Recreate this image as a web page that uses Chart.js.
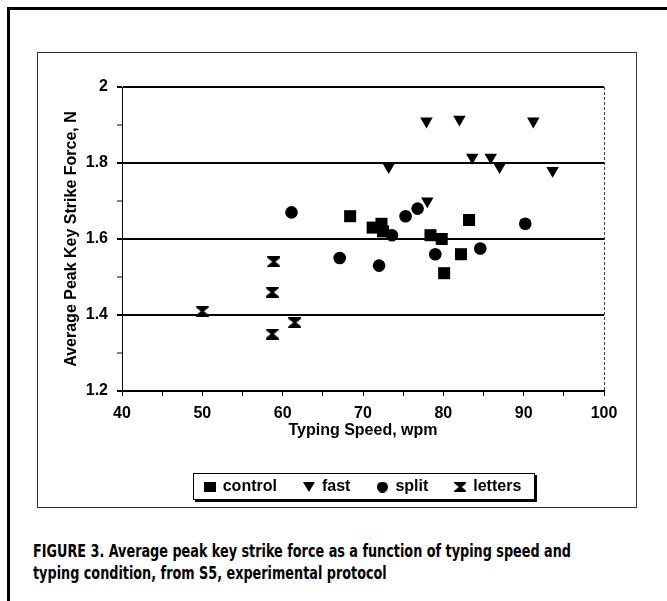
<!DOCTYPE html>
<html>
<head>
<meta charset="utf-8">
<script src="https://cdn.jsdelivr.net/npm/chart.js@4.4.0/dist/chart.umd.min.js"></script>
<style>
html,body{margin:0;padding:0;background:#fff;width:667px;height:601px;overflow:hidden;}
body{position:relative;}
#frameTop{position:absolute;left:7px;top:7px;width:660px;height:3px;background:#000;}
#frameLeft{position:absolute;left:7px;top:7px;width:3px;height:594px;background:#000;}
#box{position:absolute;left:37px;top:52px;width:598px;height:454px;border:1px solid #333;}
#wrap{position:absolute;left:38px;top:53px;width:598px;height:454px;}
.cap{position:absolute;left:33px;font-family:'Liberation Sans Narrow','DejaVu Sans Condensed','Liberation Sans',sans-serif;font-weight:bold;font-size:17px;line-height:22px;color:#000;white-space:nowrap;transform-origin:0 50%;}
</style>
</head>
<body>
<div id="frameTop"></div>
<div id="frameLeft"></div>
<div id="box"></div>
<div id="wrap"><canvas id="c" width="598" height="454"></canvas></div>
<div class="cap" id="cap1" style="top:540px">FIGURE 3. Average peak key strike force as a function of typing speed and</div>
<div class="cap" id="cap2" style="top:562px">typing condition, from S5, experimental protocol</div>
<script>
// ---- data ----
const seriesNames = ['control', 'fast', 'split', 'letters'];
const controlX = [68.4, 71.2, 72.3, 72.5, 78.4, 79.8, 80.1, 82.2, 83.2];
const controlY = [1.66, 1.63, 1.64, 1.62, 1.61, 1.60, 1.51, 1.56, 1.65];
const fastX = [73.2, 77.9, 78.0, 82.0, 83.6, 85.9, 87.0, 91.2, 93.6];
const fastY = [1.79, 1.91, 1.70, 1.915, 1.815, 1.815, 1.79, 1.91, 1.78];
const splitX = [61.1, 67.1, 72.0, 73.6, 75.3, 76.8, 79.0, 84.6, 90.2];
const splitY = [1.67, 1.55, 1.53, 1.61, 1.66, 1.68, 1.56, 1.575, 1.64];
const lettersX = [50.0, 58.7, 58.7, 58.9, 61.5];
const lettersY = [1.41, 1.35, 1.46, 1.54, 1.38];
const xTitle = 'Typing Speed, wpm';
const yTitle = 'Average Peak Key Strike Force, N';
const xMin = 40, xMax = 100, xStep = 5;
const yMin = 1.2, yMax = 2, yStep = 0.1;

// caption fit
(function(){
  const c1 = document.getElementById('cap1'), c2 = document.getElementById('cap2');
  const w = c1.getBoundingClientRect().width;
  const k = 538 / w;
  c1.style.transform = 'scaleX(' + k + ')';
  c2.style.transform = 'scaleX(' + k + ')';
})();

const ink = '#000';
function pts(xs, ys){ return xs.map((x, i) => ({x: x, y: ys[i]})); }

function makeCanvas(w, h, draw){
  const c = document.createElement('canvas');
  c.width = w; c.height = h;
  const g = c.getContext('2d');
  g.fillStyle = '#000';
  g.beginPath();
  draw(g, w, h);
  g.closePath(); g.fill();
  return c;
}
// hourglass marker
function hourglassPath(g, w, h){
  const m = h / 2, bar = h * 0.18, waist = w * 0.12;
  g.moveTo(0,0); g.lineTo(w,0); g.lineTo(w - 0.5, bar); g.lineTo(w/2 + waist, m); g.lineTo(w - 0.5, h - bar);
  g.lineTo(w,h); g.lineTo(0,h); g.lineTo(0.5, h - bar); g.lineTo(w/2 - waist, m); g.lineTo(0.5, bar);
}
const hg = makeCanvas(13, 11, hourglassPath);
// legend symbols
const legendSymbols = [
  makeCanvas(12, 10, (g, w, h) => { g.rect(0, 0, w, h); }),
  makeCanvas(12, 10, (g, w, h) => { g.moveTo(0, 0); g.lineTo(w, 0); g.lineTo(w / 2, h); }),
  makeCanvas(11, 11, (g, w, h) => { g.arc(w / 2, h / 2, w / 2, 0, Math.PI * 2); }),
  makeCanvas(12, 10, hourglassPath)
];

const legendFrame = {
  id: 'legendFrame',
  beforeDraw(chart){
    const lg = chart.legend;
    if (!lg || !lg.legendHitBoxes || !lg.legendHitBoxes.length) return;
    const hb = lg.legendHitBoxes;
    const l = Math.min.apply(null, hb.map(h => h.left));
    const r = Math.max.apply(null, hb.map(h => h.left + h.width));
    const cy = hb[0].top + hb[0].height / 2;
    const x0 = Math.round(l - 12), x1 = Math.round(r + 14);
    const y0 = Math.round(cy - 14), y1 = Math.round(cy + 13);
    const ctx = chart.ctx;
    ctx.save();
    ctx.fillStyle = '#000';
    ctx.fillRect(x0 + 2, y0 + 2, x1 - x0, y1 - y0);
    ctx.fillStyle = '#fff';
    ctx.fillRect(x0, y0, x1 - x0, y1 - y0);
    ctx.strokeStyle = '#000';
    ctx.lineWidth = 1;
    ctx.strokeRect(x0 + 0.5, y0 + 0.5, x1 - x0 - 1, y1 - y0 - 1);
    ctx.restore();
  },
  afterDraw(chart){
    const a = chart.chartArea, ctx = chart.ctx;
    ctx.save();
    ctx.strokeStyle = '#444';
    ctx.lineWidth = 1;
    ctx.setLineDash([3, 2]);
    ctx.beginPath();
    ctx.moveTo(Math.round(a.right) + 0.5, a.top);
    ctx.lineTo(Math.round(a.right) + 0.5, a.bottom);
    ctx.stroke();
    ctx.restore();
  }
};

const isMajorY = v => Math.round(v * 10) % 2 === 0;

Chart.defaults.font.family = "'Liberation Sans', Arial, sans-serif";
Chart.defaults.color = ink;

new Chart(document.getElementById('c'), {
  type: 'scatter',
  data: {
    datasets: [
      {label: seriesNames[0], data: pts(controlX, controlY), pointStyle: 'rect', pointRadius: 8.5,
       backgroundColor: ink, borderColor: ink, borderWidth: 0},
      {label: seriesNames[1], data: pts(fastX, fastY), pointStyle: 'triangle', rotation: 180, pointRotation: 180, pointRadius: 7.2,
       backgroundColor: ink, borderColor: ink, borderWidth: 0},
      {label: seriesNames[2], data: pts(splitX, splitY), pointStyle: 'circle', pointRadius: 6.3,
       backgroundColor: ink, borderColor: ink, borderWidth: 0},
      {label: seriesNames[3], data: pts(lettersX, lettersY), pointStyle: hg, pointRadius: 6.5,
       backgroundColor: ink, borderColor: ink, borderWidth: 0}
    ]
  },
  options: {
    responsive: false,
    animation: false,
    events: [],
    layout: {padding: {top: 34, bottom: 2, left: 0, right: 32}},
    plugins: {
      legend: {
        position: 'bottom',
        fullSize: false,
        labels: {usePointStyle: true, boxWidth: 10, boxHeight: 10, padding: 27, color: ink,
                 font: {size: 16, weight: 'bold'},
                 generateLabels: chart => {
                   const items = Chart.defaults.plugins.legend.labels.generateLabels(chart);
                   items.forEach(it => { it.pointStyle = legendSymbols[it.datasetIndex]; it.rotation = 0; });
                   return items;
                 }}
      },
      tooltip: {enabled: false}
    },
    scales: {
      x: {
        type: 'linear', min: xMin, max: xMax,
        ticks: {stepSize: xStep, autoSkip: false, maxRotation: 0, padding: 8, color: ink,
                font: {size: 16, weight: 'bold'},
                callback: v => (Math.round(v) % 10 === 0 ? String(v) : '')},
        grid: {drawOnChartArea: false, tickLength: 5, tickColor: ink, tickWidth: 1},
        border: {color: ink, width: 2},
        title: {display: true, text: xTitle, color: ink, font: {size: 16, weight: 'bold'},
                padding: {top: 0, bottom: 12}},
        afterFit: s => { s.height = 61; }
      },
      y: {
        type: 'linear', min: yMin, max: yMax,
        ticks: {stepSize: yStep, autoSkip: false, padding: 9, color: ink,
                font: {size: 16, weight: 'bold'},
                callback: v => (isMajorY(v) ? String(Math.round(v * 10) / 10) : '')},
        grid: {
          color: c => (c.tick && isMajorY(c.tick.value) ? ink : 'rgba(0,0,0,0)'),
          lineWidth: 2,
          tickColor: ink,
          tickWidth: c => (c.tick && isMajorY(c.tick.value) ? 2 : 1),
          tickLength: 5
        },
        border: {color: ink, width: 1},
        title: {display: true, text: yTitle, color: ink, font: {size: 16, weight: 'bold'},
                padding: {top: 24, bottom: 0}},
        afterFit: s => { s.width = 84; }
      }
    }
  },
  plugins: [legendFrame]
});
</script>
</body>
</html>
